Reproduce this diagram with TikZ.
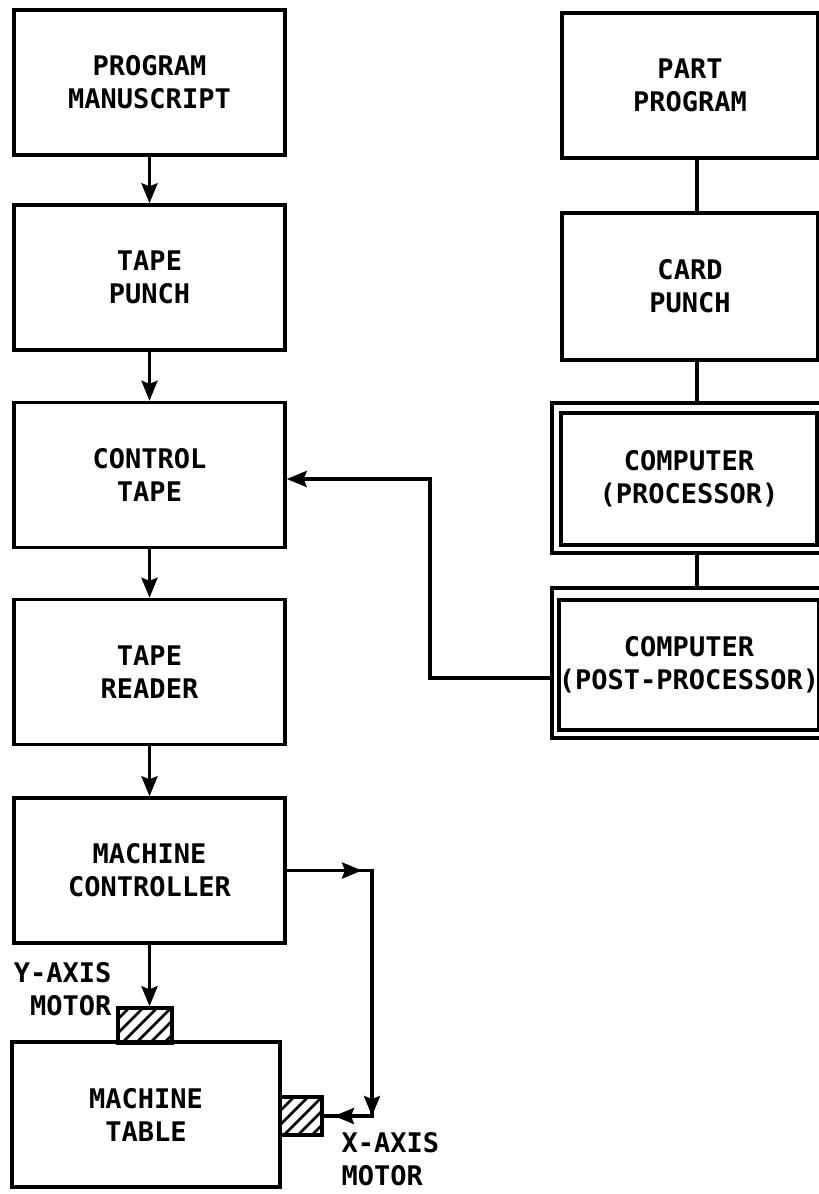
\documentclass[tikz,border=0pt]{standalone}
\usepackage{fontspec}
\newfontfamily\diagfont{DejaVu Sans Mono Bold}
\usetikzlibrary{arrows.meta,calc}
\begin{document}
\begin{tikzpicture}[x=1pt,y=-1pt,line width=3.4pt,
  txt/.style={font=\diagfont\fontsize{27}{33}\selectfont},
  box/.style={draw,txt,inner sep=0pt,align=center,minimum width=271pt,minimum height=145pt},
  rbox/.style={draw,txt,inner sep=0pt,align=center,minimum width=256pt,minimum height=145pt},
  arr/.style={-{Stealth[length=20pt,width=16pt,inset=3pt]}},
  motor/.style={draw,inner sep=0pt},
  hatch/.style={line width=2.6pt}
]
\useasboundingbox (0,0) rectangle (819,1194);
\clip (0,0) rectangle (819,1194);
% left column
\node[box] (pm) at (149.5,82.5) {PROGRAM\\MANUSCRIPT};
\node[box] (tp) at (149.5,277.5) {TAPE\\PUNCH};
\node[box] (ct) at (149.5,475) {CONTROL\\TAPE};
\node[box] (tr) at (149.5,672) {TAPE\\READER};
\node[box] (mc) at (149.5,870.5) {MACHINE\\CONTROLLER};
\node[box,minimum width=268pt] (mt) at (146,1114.5) {MACHINE\\TABLE};
% motors
\node[motor,minimum width=54pt,minimum height=35pt] (ym) at (145,1025.5) {};
\node[motor,minimum width=42pt,minimum height=38pt] (xm) at (301,1116) {};
\begin{scope}
  \clip (ym.south west) rectangle (ym.north east);
  \foreach \i in {-2,...,4} \draw[hatch] ($(ym.south west)+(\i*14+4,0)$) -- ++(36,-36);
\end{scope}
\begin{scope}
  \clip (xm.south west) rectangle (xm.north east);
  \foreach \i in {-2,...,3} \draw[hatch] ($(xm.south west)+(\i*14+4,0)$) -- ++(39,-39);
\end{scope}
\node[motor,minimum width=54pt,minimum height=35pt] at (ym) {};
\node[motor,minimum width=42pt,minimum height=38pt] at (xm) {};
% labels
\node[txt,align=right,inner sep=0pt,anchor=north east] (yl) at (113,961) {Y-AXIS\\MOTOR};
\node[txt,align=left,inner sep=0pt,anchor=north west] (xl) at (340,1131) {X-AXIS\\MOTOR};
% right column
\node[rbox] (pp) at (690,85.5) {PART\\PROGRAM};
\node[rbox,minimum height=147pt] (cp) at (690,286.5) {CARD\\PUNCH};
\node[draw,minimum width=274pt,minimum height=150pt,inner sep=0pt] (cpo) at (689,478) {};
\node[rbox,minimum height=132pt] (cpi) at (689,479) {COMPUTER\\(PROCESSOR)};
\node[draw,minimum width=274pt,minimum height=150pt,inner sep=0pt] (ppo) at (689,663) {};
\node[rbox,minimum height=130pt] (ppi) at (689,665) {COMPUTER\\(POST-PROCESSOR)};
% connectors left
\draw[arr] (pm.south) -- (tp.north);
\draw[arr] (tp.south) -- (ct.north);
\draw[arr] (ct.south) -- (tr.north);
\draw[arr] (tr.south) -- (mc.north);
\draw[arr] (mc.south) -- (mc.south |- ym.north);
% connectors right
\coordinate (rx) at (697,0);
\draw (pp.south -| rx) -- (cp.north -| rx);
\draw (cp.south -| rx) -- (cpo.north -| rx);
\draw (cpo.south -| rx) -- (ppo.north -| rx);
% feedback
\coordinate (fb0) at (552,678);
\coordinate (fb1) at (430,678);
\coordinate (fb2) at (430,479);
\draw[arr] (fb0) -- (fb1) -- (fb2) -- (ct.east |- fb2);
% x-axis branch
\coordinate (xa1) at (362,870.5);
\coordinate (xc1) at (372,870.5);
\coordinate (xc2) at (372,1116);
\coordinate (xa3) at (334,1116);
\draw (mc.east) -- (xc1) -- (xc2) -- (xm.east);
\draw[arr] (mc.east) -- (xa1);
\draw[arr] (xc1) -- (xc2);
\draw[arr] (xc2) -- (xa3);
\end{tikzpicture}
\end{document}
